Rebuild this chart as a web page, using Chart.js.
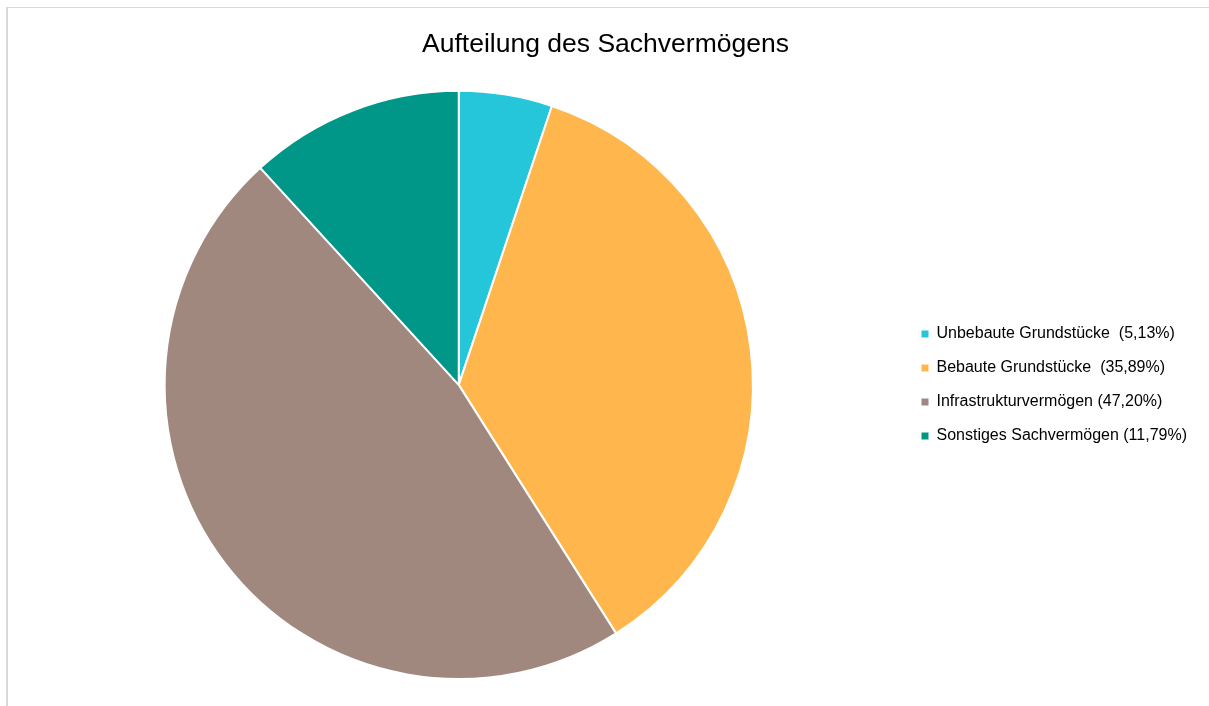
<!DOCTYPE html>
<html lang="de">
<head>
<meta charset="utf-8">
<title>Aufteilung des Sachvermögens</title>
<script src="https://cdn.jsdelivr.net/npm/chart.js@4.4.1/dist/chart.umd.min.js"></script>
<style>
    html, body { margin: 0; padding: 0; background: #fff; overflow: hidden; }
    .frame {
        position: absolute; left: 6px; top: 7px; width: 1400px; height: 900px;
        border-left: 2px solid #d9d9d9; border-top: 1px solid #d9d9d9;
    }
    .wrap { position: absolute; left: 0; top: 0; width: 1209px; height: 706px; }
</style>
</head>
<body>
<div class="frame"></div>
<div class="wrap"><canvas id="pieChart"></canvas></div>
<script>
// Werte aus der Vorlage
const categories = ['Unbebaute Grundstücke', 'Bebaute Grundstücke', 'Infrastrukturvermögen', 'Sonstiges Sachvermögen'];
const legendLabels = [
    'Unbebaute Grundstücke  (5,13%)',
    'Bebaute Grundstücke  (35,89%)',
    'Infrastrukturvermögen (47,20%)',
    'Sonstiges Sachvermögen (11,79%)'
];
const shares = [5.13, 35.89, 47.20, 11.79];
const colors = ['#26c6da', '#ffb74d', '#a1887f', '#009688'];

const ctx = document.getElementById('pieChart').getContext('2d');
new Chart(ctx, {
    type: 'pie',
    data: {
        labels: categories,
        datasets: [{
            data: shares,
            backgroundColor: colors,
            borderColor: '#ffffff',
            borderWidth: 2
        }]
    },
    options: {
        responsive: true,
        maintainAspectRatio: false,
        animation: false,
        layout: { padding: { left: 14, right: 12, top: 0, bottom: 26 } },
        plugins: {
            tooltip: { enabled: false },
            title: {
                display: true,
                text: 'Aufteilung des Sachvermögens',
                color: '#000000',
                font: { family: '"Liberation Sans", Arial, sans-serif', size: 26.5, weight: 'normal' },
                padding: { top: 29, bottom: 29 }
            },
            legend: {
                position: 'right',
                fullSize: false,
                labels: {
                    color: '#000000',
                    font: { family: '"Liberation Sans", Arial, sans-serif', size: 16 },
                    boxWidth: 7,
                    boxHeight: 7,
                    padding: 18,
                    generateLabels: (chart) => legendLabels.map((text, i) => ({
                        text: text,
                        fillStyle: colors[i],
                        strokeStyle: colors[i],
                        lineWidth: 0,
                        hidden: false,
                        index: i
                    }))
                }
            }
        }
    }
});
</script>
</body>
</html>
